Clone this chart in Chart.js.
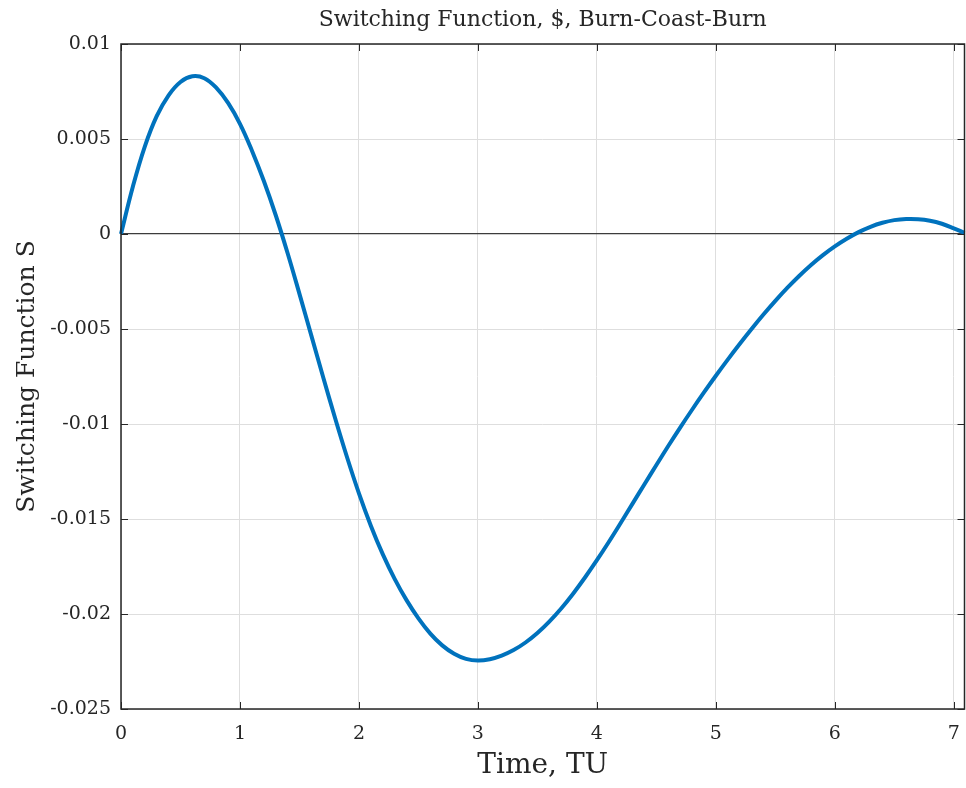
<!DOCTYPE html>
<html>
<head>
<meta charset="utf-8">
<script src="https://cdn.jsdelivr.net/npm/chart.js@4/dist/chart.umd.min.js"></script>
<style>
    html, body { margin: 0; padding: 0; background: #fff; }
    #wrap { width: 966px; height: 788px; }
</style>
</head>
<body>
<div id="wrap"><canvas id="chart" width="966" height="788"></canvas></div>
<script>
const TIME_TU = [
    0, 0.1, 0.2, 0.3, 0.4, 0.5, 0.6, 0.7, 0.8, 0.9,
    1.0, 1.1, 1.2, 1.3, 1.4, 1.5, 1.6, 1.7, 1.8, 1.9,
    2.0, 2.1, 2.2, 2.3, 2.4, 2.5, 2.6, 2.7, 2.8, 2.9,
    3.0, 3.1, 3.2, 3.3, 3.4, 3.5, 3.6, 3.7, 3.8, 3.9,
    4.0, 4.1, 4.2, 4.3, 4.4, 4.5, 4.6, 4.7, 4.8, 4.9,
    5.0, 5.1, 5.2, 5.3, 5.4, 5.5, 5.6, 5.7, 5.8, 5.9,
    6.0, 6.1, 6.2, 6.3, 6.4, 6.5, 6.6, 6.7, 6.8, 6.9,
    7.0, 7.09
];

const SWITCHING_FN = [
    0, 0.0025, 0.0046, 0.0062, 0.0073, 0.0080, 0.0083, 0.0082, 0.0077, 0.0069,
    0.0058, 0.0044, 0.0028, 0.0010, -0.0010, -0.00315, -0.00535, -0.00755, -0.0097, -0.01175,
    -0.01365, -0.01535, -0.01685, -0.01815, -0.01927, -0.02023, -0.02103, -0.02165, -0.02209, -0.02236,
    -0.02245, -0.02238, -0.02219, -0.02190, -0.02150, -0.02100, -0.02040, -0.01971, -0.01893, -0.01808,
    -0.01717, -0.01621, -0.01521, -0.01419, -0.01317, -0.01216, -0.01116, -0.01019, -0.00925, -0.00834,
    -0.00746, -0.00661, -0.00579, -0.00500, -0.00424, -0.00352, -0.00284, -0.00221, -0.00163, -0.00111,
    -0.00065, -0.00025, 0.00010, 0.00038, 0.00059, 0.00073, 0.00079, 0.00078, 0.00070, 0.00054,
    0.00030, 0.00006
];

const X_TICKS = [0, 1, 2, 3, 4, 5, 6, 7];
const Y_TICKS = [-0.025, -0.02, -0.015, -0.01, -0.005, 0, 0.005, 0.01];

const AXIS_COLOR = '#262626';
const GRID_COLOR = '#dedede';
const SERIF = '"DejaVu Serif", "Liberation Serif", serif';

// MATLAB-style box with inward ticks on all four sides
const boxPlugin = {
    id: 'boxTicks',
    afterDraw(chart) {
        const { ctx, chartArea: a, scales } = chart;
        const len = 7;
        ctx.save();
        ctx.strokeStyle = AXIS_COLOR;
        ctx.lineWidth = 1.5;
        ctx.strokeRect(a.left, a.top, a.right - a.left, a.bottom - a.top);
        ctx.lineWidth = 1;
        ctx.beginPath();
        X_TICKS.forEach(v => {
            const px = Math.round(scales.x.getPixelForValue(v)) + 0.5;
            ctx.moveTo(px, a.bottom); ctx.lineTo(px, a.bottom - len);
            ctx.moveTo(px, a.top); ctx.lineTo(px, a.top + len);
        });
        Y_TICKS.forEach(v => {
            const py = Math.round(scales.y.getPixelForValue(v)) + 0.5;
            ctx.moveTo(a.left, py); ctx.lineTo(a.left + len, py);
            ctx.moveTo(a.right, py); ctx.lineTo(a.right - len, py);
        });
        ctx.stroke();
        ctx.restore();
    }
};

new Chart(document.getElementById('chart'), {
    type: 'line',
    data: {
        datasets: [{
            label: 'Switching Function',
            data: TIME_TU.map((t, i) => ({ x: t, y: SWITCHING_FN[i] })),
            borderColor: '#0072BD',
            borderWidth: 4,
            pointRadius: 0,
            tension: 0.4,
            fill: false,
            clip: false
        }]
    },
    options: {
        responsive: false,
        animation: false,
        layout: { padding: { left: 0, right: 1.5, top: 0, bottom: 0 } },
        plugins: {
            legend: { display: false },
            tooltip: { enabled: false },
            title: {
                display: true,
                fullSize: false,
                text: 'Switching Function, $, Burn-Coast-Burn',
                color: AXIS_COLOR,
                font: { family: SERIF, size: 22, weight: 'normal' },
                padding: { top: 7, bottom: 10.6 }
            }
        },
        scales: {
            x: {
                type: 'linear',
                min: 0,
                max: 7.09,
                afterFit: s => { s.height = 79; s.paddingLeft = 0; s.paddingRight = 0; },
                afterBuildTicks: s => { s.ticks = X_TICKS.map(v => ({ value: v })); },
                ticks: {
                    color: AXIS_COLOR,
                    padding: 14,
                    maxRotation: 0,
                    font: { family: SERIF, size: 19 },
                    callback: v => String(v)
                },
                grid: { color: GRID_COLOR, drawTicks: false, lineWidth: 1 },
                border: { display: false },
                title: {
                    display: true,
                    text: 'Time, TU',
                    color: AXIS_COLOR,
                    font: { family: SERIF, size: 28 },
                    padding: { top: 0, bottom: 5 }
                }
            },
            y: {
                type: 'linear',
                min: -0.025,
                max: 0.01,
                afterFit: s => { s.width = 121; s.paddingTop = 0; s.paddingBottom = 0; },
                afterBuildTicks: s => { s.ticks = Y_TICKS.map(v => ({ value: v })); },
                ticks: {
                    color: AXIS_COLOR,
                    padding: 10,
                    font: { family: SERIF, size: 19 },
                    callback: v => String(parseFloat(v.toFixed(4)))
                },
                grid: {
                    color: c => (c.tick && c.tick.value === 0) ? '#3c3c3c' : GRID_COLOR,
                    lineWidth: c => (c.tick && c.tick.value === 0) ? 1.3 : 1,
                    drawTicks: false
                },
                border: { display: false },
                title: {
                    display: true,
                    text: 'Switching Function S',
                    color: AXIS_COLOR,
                    font: { family: SERIF, size: 25 },
                    padding: { top: 12, bottom: 0 }
                }
            }
        }
    },
    plugins: [boxPlugin]
});
</script>
</body>
</html>
